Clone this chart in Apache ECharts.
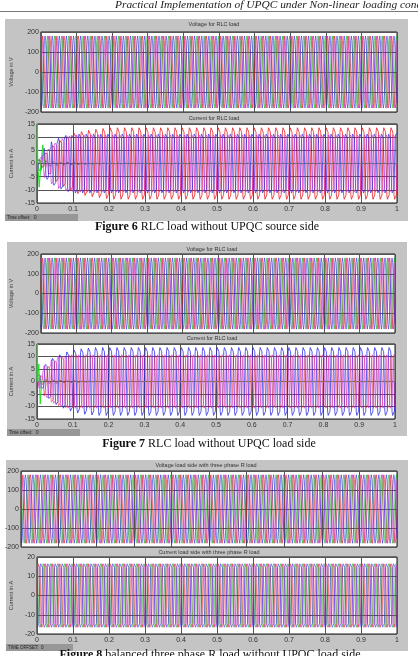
<!DOCTYPE html>
<html>
<head>
<meta charset="utf-8">
<script src="https://cdn.jsdelivr.net/npm/echarts@6/dist/echarts.min.js"></script>
<style>
html, body { margin: 0; padding: 0; background: #fff; }
#main { width: 418px; height: 656px; }
</style>
</head>
<body>
<div id="main"></div>
<script>
// time axis (s)
var timeTicks = [0, 0.1, 0.2, 0.3, 0.4, 0.5, 0.6, 0.7, 0.8, 0.9, 1];
// one period of the voltage trace, 12 points per cycle, per unit
var voltShape = [0, 0.5, 0.87, 1, 0.87, 0.5, 0, -0.5, -0.87, -1, -0.87, -0.5];
// one period of the current trace as drawn (flat topped), per unit
var currShape = [0, 0.85, 0.97, 1, 0.97, 0.85, 0, -0.85, -0.97, -1, -0.97, -0.85];
var cycleCount = 50; // 50 Hz over 1 s

// peaks per cycle, the last value holds to the end of the run
// Figure 6 - source side
var v6Peak = [180];
var i6Red = [1.5, 4.5, 7, 9, 10.5, 11.8, 12.5, 13, 13.4, 13.7, 14];
var i6Blue = [3, 6, 8.5, 10, 11, 11.5];
var i6Mag = [2.5, 5.5, 8, 9.8, 10.8, 11.2];
var i6Neutral = [1.5, 1, 0.8, 0.6, 0.45, 0.35, 0.25, 0.2, 0.15, 0.1];
var i6GreenT = [0, 0.001, 0.002, 0.006, 0.011, 0.016, 0.02];
var i6GreenV = [0, 15, 0, -9, 0, 7, 0];
// Figure 7 - load side
var v7Peak = [180];
var i7Blue = [3, 7, 9.5, 11, 12.2, 13, 13.5, 13.8, 14];
var i7Mag = [3, 6.5, 9, 10.5, 11];
var i7Red = [2.5, 6, 8.5, 10, 10.8];
var i7Neutral = [1.2, 0.9, 0.7, 0.5, 0.4, 0.3, 0.2, 0.15, 0.1];
var i7GreenT = [0, 0.001, 0.002, 0.005, 0.009, 0.013, 0.017];
var i7GreenV = [0, 15, 0, 7, -9, 0, 0];
// Figure 8 - balanced R load
var v8Peak = [180];
var i8Peak = [17];

var chart = echarts.init(document.getElementById('main'));

function wave(shape, peaks, offset) {
  var n = shape.length, pts = [];
  for (var c = 0; c < cycleCount; c++) {
    var a = peaks[Math.min(c, peaks.length - 1)];
    for (var k = 0; k < n; k++) {
      pts.push([(c * n + k) / (cycleCount * n), a * shape[(k + offset) % n]]);
    }
  }
  pts.push([1, peaks[peaks.length - 1] * shape[offset % n]]);
  return pts;
}

function pairs(t, v) {
  return t.map(function (x, i) { return [x, v[i]]; });
}

function line(g, data, color, op, w) {
  return {
    type: 'line', xAxisIndex: g, yAxisIndex: g, data: data,
    showSymbol: false, symbol: 'none', animation: false, silent: true,
    lineStyle: { color: color, width: w || 1, opacity: op || 0.8 }
  };
}

var RED = '#e8141e', GRN = '#18b418', BLU = '#2424e6', MAG = '#d22ad2';

// plot boxes
var boxes = [
  { left: 31, top: 32, width: 366, height: 80 },
  { left: 33, top: 124, width: 364, height: 79 },
  { left: 30, top: 254, width: 365, height: 79 },
  { left: 31, top: 344, width: 364, height: 75 },
  { left: 21, top: 471, width: 376, height: 76 },
  { left: 22, top: 557, width: 375, height: 77 }
];
var yRange = [[-200, 200, 100], [-15, 15, 5], [-200, 200, 100], [-15, 15, 5], [-200, 200, 100], [-20, 20, 10]];
var yNames = ['Voltage in V', 'Current in A', 'Voltage in V', 'Current in A', '', 'Current in A'];
var yGaps = [19, 16, 18, 15, 16, 17];

var grids = [], xAxes = [], yAxes = [];
boxes.forEach(function (b, i) {
  grids.push({
    left: b.left, top: b.top, width: b.width, height: b.height,
    show: true, backgroundColor: '#fff', borderColor: '#1a1a1a', borderWidth: 1
  });
  xAxes.push({
    type: 'value', gridIndex: i, min: 0, max: 1, interval: 0.1,
    axisLine: { show: false }, axisTick: { show: false },
    axisLabel: {
      show: i % 2 === 1, fontSize: 7, color: '#333', margin: 3,
      fontFamily: 'Liberation Sans',
      formatter: function (v) { return String(Math.round(v * 10) / 10); }
    },
    splitLine: { show: true, lineStyle: { color: '#555', width: 1 } }
  });
  yAxes.push({
    type: 'value', gridIndex: i, min: yRange[i][0], max: yRange[i][1], interval: yRange[i][2],
    name: yNames[i], nameLocation: 'middle', nameGap: yGaps[i], nameRotate: 90,
    nameTextStyle: { fontSize: 5.5, color: '#444', fontFamily: 'Liberation Sans' },
    axisLine: { show: false }, axisTick: { show: false },
    axisLabel: { fontSize: 7, color: '#333', margin: 2, fontFamily: 'Liberation Sans' },
    splitLine: { show: true, lineStyle: { color: '#555', width: 1 } }
  });
});

var VW = 0.8, VO = 0.75;
var series = [
  // Figure 6
  line(0, wave(voltShape, v6Peak, 2), MAG, VO, VW), line(0, wave(voltShape, v6Peak, 0), RED, VO, VW),
  line(0, wave(voltShape, v6Peak, 4), GRN, VO, VW), line(0, wave(voltShape, v6Peak, 8), BLU, VO, VW),
  line(1, wave(currShape, i6Red, 0), RED, 0.75),
  line(1, wave(currShape, i6Neutral, 0), '#7d8f6e', 1),
  line(1, wave(currShape, i6Blue, 4), BLU, 0.7), line(1, wave(currShape, i6Mag, 8), MAG, 0.65),
  line(1, pairs(i6GreenT, i6GreenV), '#22dd22', 1),
  // Figure 7
  line(2, wave(voltShape, v7Peak, 2), MAG, VO, VW), line(2, wave(voltShape, v7Peak, 0), RED, VO, VW),
  line(2, wave(voltShape, v7Peak, 4), GRN, VO, VW), line(2, wave(voltShape, v7Peak, 8), BLU, VO, VW),
  line(3, wave(currShape, i7Blue, 0), BLU, 0.75),
  line(3, wave(currShape, i7Neutral, 0), '#7d8f6e', 1),
  line(3, wave(currShape, i7Red, 8), RED, 0.5), line(3, wave(currShape, i7Mag, 4), MAG, 0.65),
  line(3, pairs(i7GreenT, i7GreenV), '#22dd22', 1),
  // Figure 8
  line(4, wave(voltShape, v8Peak, 2), MAG, VO, VW), line(4, wave(voltShape, v8Peak, 0), RED, VO, VW),
  line(4, wave(voltShape, v8Peak, 4), GRN, VO, VW), line(4, wave(voltShape, v8Peak, 8), BLU, VO, VW),
  line(5, wave(currShape, i8Peak, 2), MAG, 0.7, 0.8), line(5, wave(currShape, i8Peak, 0), RED, 0.7, 0.8),
  line(5, wave(currShape, i8Peak, 4), GRN, 0.7, 0.8), line(5, wave(currShape, i8Peak, 8), BLU, 0.7, 0.8)
];

function txt(x, y, s, font, fill, align) {
  return {
    type: 'text', x: x, y: y, z: 10, silent: true,
    style: { text: s, font: font, fill: fill || '#222', textAlign: align || 'center', textVerticalAlign: 'middle' }
  };
}
function rect(x, y, w, h, fill, z) {
  return { type: 'rect', z: z, silent: true, shape: { x: x, y: y, width: w, height: h }, style: { fill: fill } };
}
function caption(x, y, num, rest) {
  return {
    type: 'text', x: x, y: y, z: 10, silent: true,
    style: {
      text: '{b|' + num + '} ' + rest, fill: '#111',
      font: '12px "Liberation Serif"', textAlign: 'center', textVerticalAlign: 'middle',
      rich: { b: { font: 'bold 12px "Liberation Serif"', fill: '#111' } }
    }
  };
}

var PANEL = '#c4c4c4', BAR = '#979797';
var graphics = [
  txt(115, 5, 'Practical Implementation of UPQC under Non-linear loading conditions', 'italic 11.4px "Liberation Serif"', '#222', 'left'),
  { type: 'line', z: 10, silent: true, shape: { x1: 0, y1: 11.5, x2: 418, y2: 11.5 }, style: { stroke: '#777', lineWidth: 1 } },
  // Figure 6
  rect(5, 19, 403, 202, PANEL, -100),
  rect(5, 214, 73, 7, BAR, -90),
  txt(7, 217.5, 'Time offset:   0', '4.5px "Liberation Sans"', '#222', 'left'),
  txt(214, 24, 'Voltage for RLC load', '5.5px "Liberation Sans"', '#333'),
  txt(214, 118, 'Current for RLC load', '5.5px "Liberation Sans"', '#333'),
  caption(207, 227, 'Figure 6', 'RLC load without UPQC source side'),
  // Figure 7
  rect(7, 242, 400, 194, PANEL, -100),
  rect(7, 429, 73, 7, BAR, -90),
  txt(9, 432.5, 'Time offset:   0', '4.5px "Liberation Sans"', '#222', 'left'),
  txt(212, 249, 'Voltage for RLC load', '5.5px "Liberation Sans"', '#333'),
  txt(212, 338, 'Current for RLC load', '5.5px "Liberation Sans"', '#333'),
  caption(209, 444, 'Figure 7', 'RLC load without UPQC load side'),
  // Figure 8
  rect(6, 460, 402, 191, PANEL, -100),
  rect(6, 644, 67, 7, BAR, -90),
  txt(8, 647.5, 'TIME OFFSET:  0', '4.5px "Liberation Sans"', '#222', 'left'),
  txt(206, 465, 'Voltage load side with three phase R load', '5.5px "Liberation Sans"', '#333'),
  txt(209, 552, 'Current load side with three phase R load', '5.5px "Liberation Sans"', '#333'),
  caption(210, 655, 'Figure 8', 'balanced three phase R load without UPQC load side')
];

chart.setOption({
  backgroundColor: '#fff',
  animation: false,
  grid: grids,
  xAxis: xAxes,
  yAxis: yAxes,
  series: series,
  graphic: { elements: graphics }
});
</script>
</body>
</html>
